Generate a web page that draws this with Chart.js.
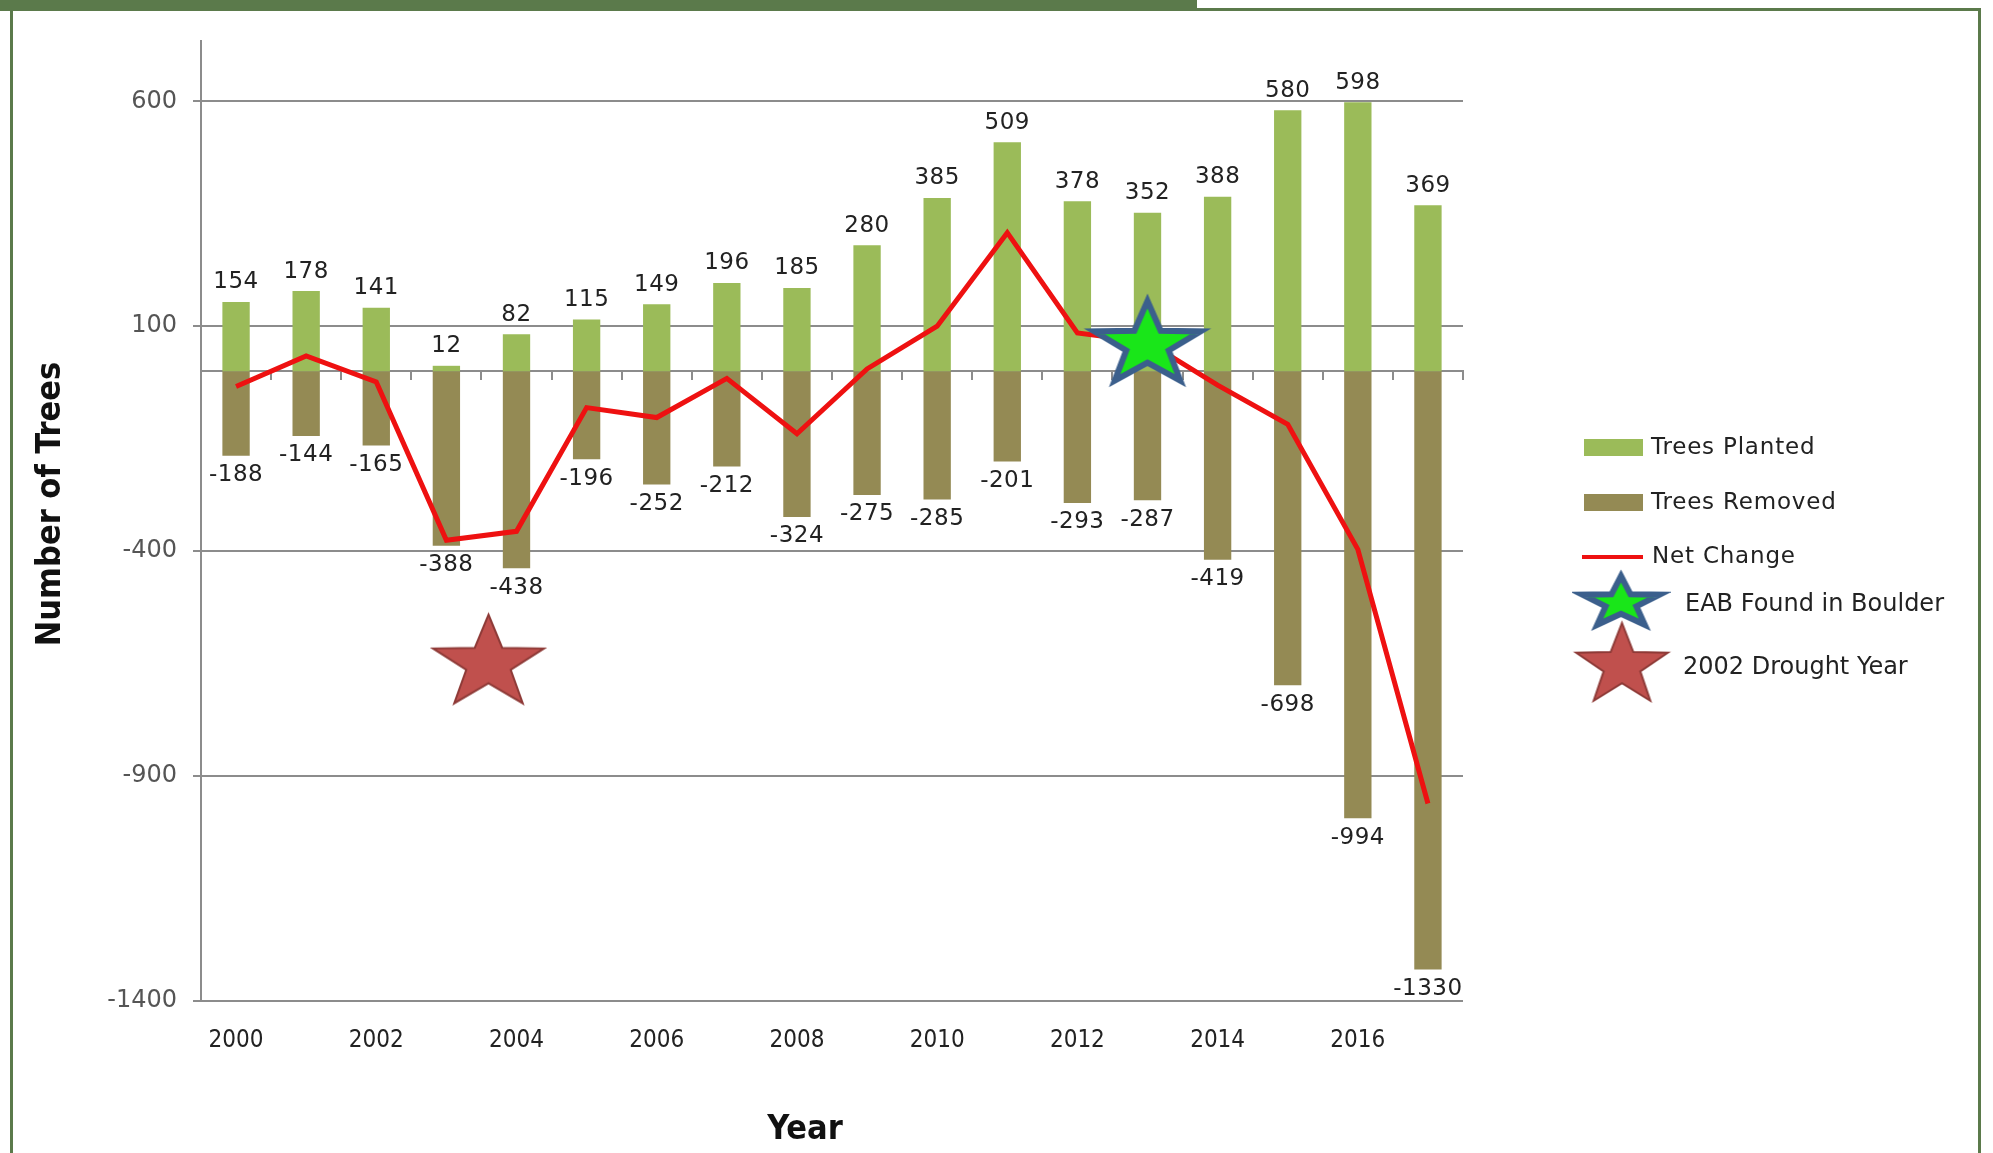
<!DOCTYPE html>
<html>
<head>
<meta charset="utf-8">
<script src="https://cdn.jsdelivr.net/npm/chart.js@4.4.1/dist/chart.umd.min.js"></script>
<style>
  html, body { margin: 0; padding: 0; background: #fff; overflow: hidden; }
  #frame { position: absolute; left: 10px; top: 8px; width: 1965px; height: 1170px; border: 3px solid #5b7a4b; border-bottom: none; }
  #header { position: absolute; left: 0; top: 0; width: 1197px; height: 11px; background: #5b7a4b; }
  #chart { position: absolute; left: 0; top: 0; }
</style>
</head>
<body>
<div id="frame"></div>
<div id="header"></div>
<canvas id="chart" width="1993" height="1153"></canvas>
<script>
// values
const years = ['2000','2001','2002','2003','2004','2005','2006','2007','2008',
               '2009','2010','2011','2012','2013','2014','2015','2016','2017'];
const treesPlanted = [154, 178, 141, 12, 82, 115, 149, 196, 185, 280, 385, 509, 378, 352, 388, 580, 598, 369];
const treesRemoved = [-188, -144, -165, -388, -438, -196, -252, -212, -324, -275, -285, -201, -293, -287, -419, -698, -994, -1330];
const netChange = [-34, 34, -24, -376, -356, -81, -103, -16, -139, 5, 100, 308, 85, 65, -31, -118, -396, -961];
const yTicks = [-1400, -900, -400, 100, 600];
const xTickLabels = ['2000', '2002', '2004', '2006', '2008', '2010', '2012', '2014', '2016'];
const eabFound = [{ x: 2013, y: 65 }];
const droughtYear = [{ x: 2003.6, y: -650 }];

const plantedColor = '#9bbb59';
const removedColor = '#948a54';
const netColor = '#ee1111';
const gridColor = '#8c8c8c';
const titleFont = '"Liberation Sans Narrow", "DejaVu Sans Condensed", sans-serif';

// filled 5 point star drawn on a small canvas, used as a pointStyle image
function makeStar(r, sx, fill, stroke, lw, dy) {
  const w = Math.ceil(r * 2 * sx + lw * 2 + 6);
  const h = Math.ceil(r * 2 + lw * 2 + 6 + Math.abs(dy) * 2);
  const c = document.createElement('canvas');
  c.width = w; c.height = h;
  const g = c.getContext('2d');
  g.translate(w / 2, h / 2 + dy);
  g.beginPath();
  for (let i = 0; i < 10; i++) {
    const rr = i % 2 ? r * 0.4 : r;
    const a = -Math.PI / 2 + i * Math.PI / 5;
    g.lineTo(Math.cos(a) * rr * sx, Math.sin(a) * rr);
  }
  g.closePath();
  g.fillStyle = fill;
  g.fill();
  g.lineJoin = 'miter';
  g.lineWidth = lw;
  g.strokeStyle = stroke;
  g.stroke();
  return c;
}

const eabStar = makeStar(44, 1.27, '#19e619', '#3b5f8c', 6, 3);
const droughtStar = makeStar(49, 1.19, '#c0504d', '#8e3a37', 2, 0);
const eabLegendStar = makeStar(27, 1.5, '#19e619', '#3b5f8c', 6, 0);
const droughtLegendStar = makeStar(43, 1.12, '#c0504d', '#8e3a37', 2, 0);

const valueLabels = {
  id: 'valueLabels',
  afterDatasetsDraw(chart) {
    const ctx = chart.ctx;
    ctx.save();
    ctx.font = '23px "DejaVu Sans"';
    ctx.letterSpacing = '0.5px';
    ctx.fillStyle = '#222';
    ctx.textAlign = 'center';
    [0, 1].forEach(di => {
      const meta = chart.getDatasetMeta(di);
      const data = chart.data.datasets[di].data;
      meta.data.forEach((bar, i) => {
        const v = data[i];
        if (v >= 0) {
          ctx.textBaseline = 'bottom';
          ctx.fillText(String(v), bar.x, bar.y - 8);
        } else {
          ctx.textBaseline = 'top';
          ctx.fillText(String(v), bar.x, bar.y + 8);
        }
      });
    });
    ctx.restore();
  }
};

// legend on the right and the two axis titles
const sideLegend = {
  id: 'sideLegend',
  afterDraw(chart) {
    const ctx = chart.ctx;
    const area = chart.chartArea;
    const x0 = area.right + 121;
    ctx.save();
    ctx.fillStyle = plantedColor;
    ctx.fillRect(x0, 439, 59, 17);
    ctx.fillStyle = removedColor;
    ctx.fillRect(x0, 494, 59, 17);
    ctx.strokeStyle = netColor;
    ctx.lineWidth = 4;
    ctx.beginPath();
    ctx.moveTo(x0 - 2, 557);
    ctx.lineTo(x0 + 59, 557);
    ctx.stroke();
    ctx.drawImage(eabLegendStar, x0 + 37 - eabLegendStar.width / 2, 603 - eabLegendStar.height / 2);
    ctx.drawImage(droughtLegendStar, x0 + 38 - droughtLegendStar.width / 2, 666 - droughtLegendStar.height / 2);

    ctx.fillStyle = '#222';
    ctx.textBaseline = 'middle';
    ctx.textAlign = 'left';
    ctx.font = '23px "DejaVu Sans"';
    ctx.letterSpacing = '0.8px';
    ctx.fillText('Trees Planted', x0 + 67, 448);
    ctx.fillText('Trees Removed', x0 + 67, 503);
    ctx.fillText('Net Change', x0 + 68, 557);
    ctx.letterSpacing = '0px';
    ctx.font = '24px "DejaVu Sans"';
    ctx.fillText('EAB Found in Boulder', x0 + 101, 605);
    ctx.fillText('2002 Drought Year', x0 + 99, 668);

    ctx.fillStyle = '#111';
    ctx.textAlign = 'center';
    ctx.font = 'bold 34px ' + titleFont;
    ctx.fillText('Year', 805, 1130);
    ctx.translate(51, 504);
    ctx.rotate(-Math.PI / 2);
    ctx.fillText('Number of Trees', 0, 0);
    ctx.restore();
  }
};

new Chart(document.getElementById('chart'), {
  type: 'bar',
  data: {
    labels: years,
    datasets: [
      {
        label: 'Trees Planted',
        data: treesPlanted,
        backgroundColor: plantedColor,
        grouped: false,
        barPercentage: 0.39,
        categoryPercentage: 1,
        order: 3
      },
      {
        label: 'Trees Removed',
        data: treesRemoved,
        backgroundColor: removedColor,
        grouped: false,
        barPercentage: 0.39,
        categoryPercentage: 1,
        order: 3
      },
      {
        type: 'line',
        label: 'Net Change',
        data: netChange,
        borderColor: netColor,
        borderWidth: 5,
        pointRadius: 0,
        tension: 0,
        order: 1
      },
      {
        type: 'scatter',
        label: 'EAB Found in Boulder',
        data: eabFound,
        xAxisID: 'x2',
        pointStyle: eabStar,
        pointRadius: 40,
        order: 0
      },
      {
        type: 'scatter',
        label: '2002 Drought Year',
        data: droughtYear,
        xAxisID: 'x2',
        pointStyle: droughtStar,
        pointRadius: 40,
        order: 0
      }
    ]
  },
  options: {
    responsive: false,
    animation: false,
    devicePixelRatio: 1,
    layout: { padding: { left: 0, top: 25, right: 530, bottom: 0 } },
    plugins: {
      legend: { display: false },
      tooltip: { enabled: false }
    },
    scales: {
      x: {
        grid: { display: false, drawTicks: false },
        border: { display: false },
        afterFit: s => { s.height = 152; s.paddingLeft = 0; s.paddingRight = 0; },
        ticks: {
          autoSkip: false,
          maxRotation: 0,
          padding: 25,
          color: '#222',
          font: { family: '"DejaVu Sans Condensed", "DejaVu Sans", sans-serif', size: 24 },
          callback: (v, i) => xTickLabels.includes(years[i]) ? years[i] : ''
        }
      },
      x0: {
        type: 'category',
        axis: 'x',
        position: { y: 0 },
        offset: true,
        grid: { drawOnChartArea: false, drawTicks: true, tickLength: 8, offset: true, color: gridColor, lineWidth: 2 },
        border: { display: true, color: gridColor, width: 2 },
        ticks: { display: false }
      },
      x2: {
        type: 'linear',
        axis: 'x',
        display: false,
        offset: false,
        min: 1999.5,
        max: 2017.5
      },
      y: {
        min: -1400,
        max: 734,
        afterBuildTicks: s => { s.ticks = yTicks.map(v => ({ value: v })); },
        afterFit: s => { s.width = 201; s.paddingTop = 0; s.paddingBottom = 0; },
        grid: { color: gridColor, lineWidth: 2, tickLength: 8 },
        border: { color: gridColor, width: 2 },
        ticks: {
          color: '#555',
          padding: 16,
          font: { family: '"DejaVu Sans", sans-serif', size: 24 },
          callback: v => String(v)
        }
      }
    }
  },
  plugins: [valueLabels, sideLegend]
});
</script>
</body>
</html>
